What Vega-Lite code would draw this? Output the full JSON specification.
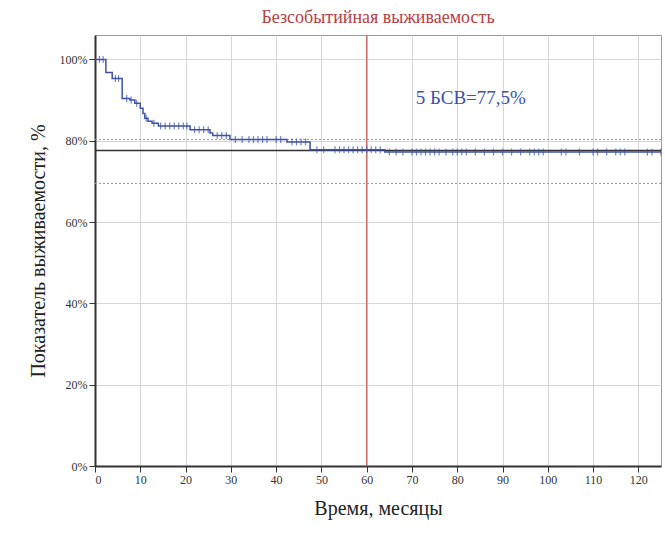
{
  "$schema": "https://vega.github.io/schema/vega-lite/v6.json",
  "width": 566,
  "height": 431,
  "autosize": {"type": "none"},
  "padding": {"left": 95, "top": 35, "right": 4, "bottom": 70},
  "background": "white",
  "config": {
    "view": {"stroke": "#9a9a9a", "strokeWidth": 1},
    "font": "Liberation Serif"
  },
  "title": {
    "text": "Безсобытийная выживаемость",
    "color": "#b5413f",
    "font": "Liberation Serif",
    "fontSize": 18,
    "fontWeight": "normal",
    "offset": 7
  },
  "datasets": {
    "curve": [
      {"t": 0, "s": 100}, {"t": 2.4, "s": 96.8}, {"t": 3.8, "s": 95.3}, {"t": 6, "s": 90.4},
      {"t": 7.7, "s": 90}, {"t": 8.8, "s": 89.2}, {"t": 10, "s": 88}, {"t": 10.6, "s": 86.7},
      {"t": 11, "s": 85.5}, {"t": 11.7, "s": 84.8}, {"t": 12.6, "s": 84.3}, {"t": 14, "s": 83.6},
      {"t": 21, "s": 82.7}, {"t": 25.4, "s": 81.9}, {"t": 26, "s": 81.3}, {"t": 29.8, "s": 80.3},
      {"t": 42.4, "s": 79.7}, {"t": 47.5, "s": 77.8}, {"t": 64, "s": 77.2}, {"t": 125, "s": 77.2}
    ],
    "censor": [
      {"t": 1, "s": 100}, {"t": 1.8, "s": 100}, {"t": 4.5, "s": 95.3}, {"t": 5.2, "s": 95.3},
      {"t": 7, "s": 90.4}, {"t": 8, "s": 90}, {"t": 9.2, "s": 89.2}, {"t": 11.3, "s": 85.5},
      {"t": 13, "s": 84.3}, {"t": 14.5, "s": 83.6}, {"t": 15.5, "s": 83.6}, {"t": 16.5, "s": 83.6},
      {"t": 17.5, "s": 83.6}, {"t": 18.5, "s": 83.6}, {"t": 19.5, "s": 83.6}, {"t": 20.3, "s": 83.6},
      {"t": 22, "s": 82.7}, {"t": 23, "s": 82.7}, {"t": 24, "s": 82.7}, {"t": 25, "s": 82.7},
      {"t": 27, "s": 81.3}, {"t": 28, "s": 81.3}, {"t": 29, "s": 81.3},
      {"t": 31, "s": 80.3}, {"t": 32.5, "s": 80.3}, {"t": 34, "s": 80.3}, {"t": 35, "s": 80.3},
      {"t": 36, "s": 80.3}, {"t": 37, "s": 80.3}, {"t": 38, "s": 80.3}, {"t": 40, "s": 80.3}, {"t": 41, "s": 80.3},
      {"t": 43.5, "s": 79.7}, {"t": 44.5, "s": 79.7}, {"t": 45.5, "s": 79.7}, {"t": 46.5, "s": 79.7},
      {"t": 49, "s": 77.8}, {"t": 50.5, "s": 77.8}, {"t": 53, "s": 77.8}, {"t": 54, "s": 77.8},
      {"t": 55, "s": 77.8}, {"t": 56, "s": 77.8}, {"t": 57, "s": 77.8}, {"t": 58, "s": 77.8},
      {"t": 59, "s": 77.8}, {"t": 60, "s": 77.8}, {"t": 61, "s": 77.8}, {"t": 62, "s": 77.8}, {"t": 63, "s": 77.8},
      {"t": 65, "s": 77.2}, {"t": 66.5, "s": 77.2}, {"t": 68, "s": 77.2}, {"t": 70, "s": 77.2},
      {"t": 71, "s": 77.2}, {"t": 72, "s": 77.2}, {"t": 73, "s": 77.2}, {"t": 74, "s": 77.2},
      {"t": 75, "s": 77.2}, {"t": 76, "s": 77.2}, {"t": 77.5, "s": 77.2}, {"t": 79, "s": 77.2},
      {"t": 80, "s": 77.2}, {"t": 81, "s": 77.2}, {"t": 82, "s": 77.2}, {"t": 84, "s": 77.2},
      {"t": 86, "s": 77.2}, {"t": 88, "s": 77.2}, {"t": 90, "s": 77.2}, {"t": 92, "s": 77.2},
      {"t": 94, "s": 77.2}, {"t": 96, "s": 77.2}, {"t": 97, "s": 77.2}, {"t": 98, "s": 77.2},
      {"t": 99, "s": 77.2}, {"t": 103, "s": 77.2}, {"t": 104, "s": 77.2}, {"t": 107, "s": 77.2},
      {"t": 110, "s": 77.2}, {"t": 111, "s": 77.2}, {"t": 113, "s": 77.2}, {"t": 115, "s": 77.2},
      {"t": 116, "s": 77.2}, {"t": 117, "s": 77.2}, {"t": 122, "s": 77.2}, {"t": 123, "s": 77.2}, {"t": 125, "s": 77.2}
    ],
    "ci": [{"s": 80.3}, {"s": 69.5}],
    "est": [{"s": 77.6}],
    "vline": [{"t": 60}],
    "label": [{"t": 83, "s": 90.5, "txt": "5 БСВ=77,5%"}]
  },
  "layer": [
    {
      "data": {"name": "ci"},
      "mark": {"type": "rule", "color": "#9a9a9a", "strokeDash": [2, 2], "strokeWidth": 1},
      "encoding": {
        "y": {"field": "s", "type": "quantitative", "scale": {"domain": [0, 106], "nice": false, "zero": false},
          "axis": {
            "values": [0, 20, 40, 60, 80, 100],
            "labelExpr": "datum.value + '%'",
            "title": "Показатель выживаемости, %",
            "titleFont": "Liberation Serif",
            "titleFontSize": 20,
            "titleFontWeight": "normal",
            "titleColor": "#222",
            "titlePadding": 11,
            "labelFont": "Liberation Serif",
            "labelFontSize": 12,
            "labelColor": "#333",
            "tickColor": "#333",
            "tickSize": 6,
            "domainColor": "#333",
            "domainWidth": 2,
            "grid": true,
            "gridColor": "#d6d6d6"
          }
        }
      }
    },
    {
      "data": {"name": "est"},
      "mark": {"type": "rule", "color": "#333", "strokeWidth": 1.3},
      "encoding": {"y": {"field": "s", "type": "quantitative"}}
    },
    {
      "data": {"name": "vline"},
      "mark": {"type": "rule", "color": "#c9605d", "strokeWidth": 1.2},
      "encoding": {
        "x": {"field": "t", "type": "quantitative", "scale": {"domain": [0, 125], "nice": false},
          "axis": {
            "values": [0, 10, 20, 30, 40, 50, 60, 70, 80, 90, 100, 110, 120],
            "title": "Время, месяцы",
            "titleFont": "Liberation Serif",
            "titleFontSize": 20,
            "titleFontWeight": "normal",
            "titleColor": "#222",
            "titlePadding": 13,
            "labelFont": "Liberation Serif",
            "labelFontSize": 12,
            "labelColor": "#333",
            "tickColor": "#333",
            "tickSize": 6,
            "domainColor": "#333",
            "domainWidth": 2,
            "grid": true,
            "gridColor": "#d6d6d6"
          }
        }
      }
    },
    {
      "data": {"name": "curve"},
      "mark": {"type": "line", "interpolate": "step-after", "color": "#3d52a8", "strokeWidth": 1.5},
      "encoding": {
        "x": {"field": "t", "type": "quantitative"},
        "y": {"field": "s", "type": "quantitative"}
      }
    },
    {
      "data": {"name": "censor"},
      "mark": {"type": "tick", "orient": "vertical", "color": "#3d52a8", "size": 7, "thickness": 1.2},
      "encoding": {
        "x": {"field": "t", "type": "quantitative"},
        "y": {"field": "s", "type": "quantitative"}
      }
    },
    {
      "data": {"name": "label"},
      "mark": {"type": "text", "color": "#3d52a8", "font": "Liberation Serif", "fontSize": 19, "align": "center", "baseline": "middle"},
      "encoding": {
        "x": {"field": "t", "type": "quantitative"},
        "y": {"field": "s", "type": "quantitative"},
        "text": {"field": "txt"}
      }
    }
  ]
}
